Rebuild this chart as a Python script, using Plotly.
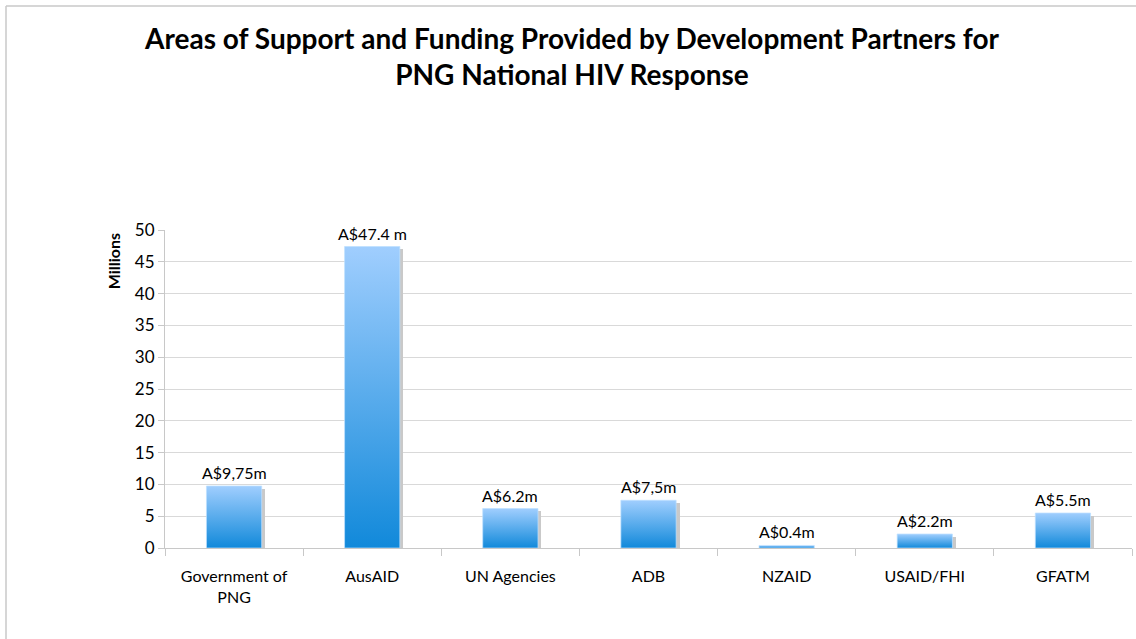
import plotly.graph_objects as go

categories = ["Government of<br>PNG", "AusAID", "UN Agencies", "ADB", "NZAID", "USAID/FHI", "GFATM"]
values = [9.75, 47.4, 6.2, 7.5, 0.4, 2.2, 5.5]
labels = ["A$9,75m", "A$47.4 m", "A$6.2m", "A$7,5m", "A$0.4m", "A$2.2m", "A$5.5m"]
y_ticks = [0, 5, 10, 15, 20, 25, 30, 35, 40, 45, 50]

FONT = "Lato"
idx = list(range(len(categories)))
half = 0.2

fig = go.Figure()

# shadow bars
fig.add_trace(go.Bar(
    x=[i + 0.025 for i in idx], y=[max(v - 0.45, 0) for v in values],
    width=2 * half, marker=dict(color="#c9c9c9", line=dict(width=0)),
    hoverinfo="skip", showlegend=False))

# gradient bars
for i, v in zip(idx, values):
    fig.add_trace(go.Scatter(
        x=[i - half, i + half, i + half, i - half, i - half],
        y=[0, 0, v, v, 0], mode="lines", fill="toself",
        line=dict(width=0.8, color="rgba(190,225,255,0.9)"),
        fillgradient=dict(type="vertical",
                          colorscale=[[0, "#1189da"], [1, "#a0cefe"]]),
        showlegend=False, hoverinfo="skip"))

# data labels
label_annotations = [dict(x=i, y=v, xref="x", yref="y", text=t, showarrow=False,
                          yanchor="bottom", yshift=2,
                          font=dict(family=FONT, size=16, color="#000000"))
                     for i, v, t in zip(idx, values, labels)]

fig.update_layout(
    width=1136, height=639,
    margin=dict(l=165, r=4, t=230, b=91),
    paper_bgcolor="white", plot_bgcolor="white",
    font=dict(family=FONT, size=16, color="#000000"),
    title=dict(
        text="<b>Areas of Support and Funding Provided by Development Partners for<br>PNG National HIV Response</b>",
        x=572 / 1136, xref="container", xanchor="center", y=1 - 49 / 639, yanchor="middle",
        font=dict(family=FONT, size=28, color="#000000")),
    xaxis=dict(range=[-0.5, 6.5], tickmode="array", tickvals=idx, ticktext=categories,
               ticks="", showgrid=False, zeroline=False,
               showline=True, linecolor="#c8c8c8", linewidth=1,
               tickfont=dict(family=FONT, size=16), ticklabelstandoff=14,
               minor=dict(tickmode="array", tickvals=[i - 0.5 for i in idx] + [6.5],
                          ticks="outside", ticklen=7, tickcolor="#c8c8c8", showgrid=False)),
    yaxis=dict(range=[0, 50], tickmode="array", tickvals=y_ticks,
               showgrid=True, gridcolor="#d9d9d9", gridwidth=1, zeroline=False,
               showline=True, linecolor="#c8c8c8", linewidth=1,
               ticks="outside", ticklen=6, tickcolor="#c8c8c8",
               tickfont=dict(family=FONT, size=17)),
    bargap=0,
    annotations=label_annotations + [
        dict(text="<b>Millions</b>", xref="paper", yref="paper",
             x=-0.065, y=0.995, textangle=-90, showarrow=False,
             font=dict(family=FONT, size=16, color="#000000"))],
    shapes=[dict(type="line", xref="paper", yref="paper",
                 x0=(6 - 165) / 967, x1=(6 - 165) / 967, y0=1 + 224 / 318, y1=-100 / 318,
                 line=dict(color="#c8c8c8", width=1.5)),
            dict(type="line", xref="paper", yref="paper",
                 x0=(6 - 165) / 967, x1=1 + 10 / 967, y0=1 + 224 / 318, y1=1 + 224 / 318,
                 line=dict(color="#c8c8c8", width=1.5))],
)

fig.write_html("out.html")
